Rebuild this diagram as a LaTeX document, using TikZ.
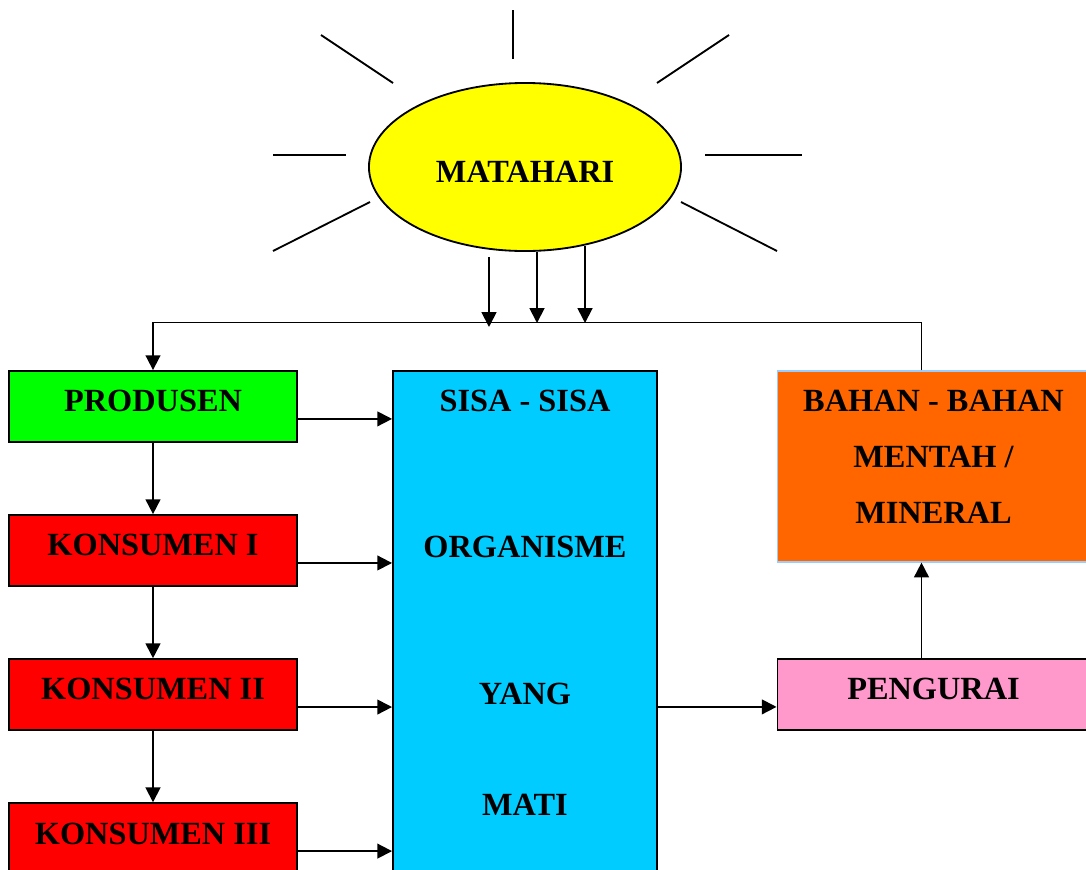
\documentclass[tikz,border=0pt]{standalone}
\usepackage{fontspec}
\setmainfont{Liberation Serif}
\usetikzlibrary{shapes.geometric, arrows.meta, positioning}

\definecolor{sunyellow}{HTML}{FFFF00}
\definecolor{prodgreen}{HTML}{00FF00}
\definecolor{konsred}{HTML}{FF0000}
\definecolor{sisacyan}{HTML}{00CCFF}
\definecolor{bahanorange}{HTML}{FF6600}
\definecolor{bahanedge}{HTML}{99CCFF}
\definecolor{urapink}{HTML}{FF99CC}

\begin{document}
\begin{tikzpicture}[
        x=0.025cm, y=-0.025cm,
        node distance=1.78cm,
        box/.style={rectangle, draw, line width=1.3pt, inner sep=0pt,
            minimum width=7.2cm, minimum height=1.775cm,
            text height=0.535cm, text depth=0.27cm,
            font=\bfseries\fontsize{23}{27}\selectfont},
        sisatext/.style={inner sep=0pt, text height=0.535cm, text depth=0pt,
            font=\bfseries\fontsize{23}{27}\selectfont},
        ray/.style={line width=1.3pt},
        arr/.style={-{Triangle[length=0.37cm, width=0.37cm]}, line width=1.3pt}
    ]
    \useasboundingbox (0,0) rectangle (1086,869);
    \clip (0,0) rectangle (1086,869);

    % Matahari
    \node[ellipse, draw, line width=1.3pt, fill=sunyellow, inner sep=0pt,
        minimum width=7.8cm, minimum height=4.2cm,
        text height=0.785cm, text depth=0pt,
        font=\bfseries\fontsize{23}{27}\selectfont] (matahari) at (525,167) {MATAHARI};
    \draw[ray] (513,10) -- (513,59);
    \draw[ray] (321,35) -- (393,83);
    \draw[ray] (729,35) -- (657,83);
    \draw[ray] (273,155) -- (346,155);
    \draw[ray] (705,155) -- (802,155);
    \draw[ray] (273,251) -- (370,202);
    \draw[ray] (777,251) -- (681,202);

    % Rantai makanan
    \node[box, fill=prodgreen] (produsen) at (153,406.5) {PRODUSEN};
    \node[box, fill=konsred, below=of produsen] (konsumen1) {KONSUMEN I};
    \node[box, fill=konsred, below=of konsumen1] (konsumen2) {KONSUMEN II};
    \node[box, fill=konsred, below=of konsumen2] (konsumen3) {KONSUMEN III};

    \node[rectangle, draw, line width=1.3pt, fill=sisacyan, inner sep=0pt,
        minimum width=6.6cm, minimum height=12.75cm] (sisa) at (525,626) {};
    \node[sisatext] (sisa1) at (525,401) {SISA - SISA};
    \node[sisatext] (sisa2) at (525,547) {ORGANISME};
    \node[sisatext] (sisa3) at (525,694) {YANG};
    \node[sisatext] (sisa4) at (525,805) {MATI};

    \node[box, fill=bahanorange, draw=bahanedge, line width=0.8pt,
        minimum width=7.8cm, minimum height=4.775cm, align=center,
        text height=3.335cm, text depth=0.5cm, font=\bfseries\fontsize{23}{39.8}\selectfont]
        (bahan) at (933.5,466.5) {BAHAN - BAHAN\\MENTAH /\\MINERAL};
    \node[box, fill=urapink, minimum width=7.8cm] (pengurai) at (933.5,694.5) {PENGURAI};

    % Aliran
    \coordinate (busmid) at (525,323);
    \draw[arr] ([xshift=-0.9cm, yshift=-0.125cm]matahari.south) -- ([xshift=-0.9cm, yshift=-0.1cm]busmid);
    \draw[arr] ([xshift=0.3cm]matahari.south) -- ([xshift=0.3cm]busmid);
    \draw[arr] ([xshift=1.5cm, yshift=0.15cm]matahari.south) -- ([xshift=1.5cm]busmid);
    \draw[arr] ([xshift=-0.3cm]bahan.north) -- ++(0,-48) -| (produsen.north);

    \draw[arr] (produsen) -- (konsumen1);
    \draw[arr] (konsumen1) -- (konsumen2);
    \draw[arr] (konsumen2) -- (konsumen3);

    \foreach \n in {produsen, konsumen1, konsumen2, konsumen3}
        \draw[arr] ([yshift=-0.31cm]\n.east) -- ([yshift=-0.31cm]\n.east -| sisa.west);

    \draw[arr] ([yshift=-0.31cm]pengurai.west -| sisa.east) -- ([yshift=-0.31cm]pengurai.west);
    \draw[arr] ([xshift=-0.3cm]pengurai.north) -- ([xshift=-0.3cm]bahan.south);
\end{tikzpicture}
\end{document}
